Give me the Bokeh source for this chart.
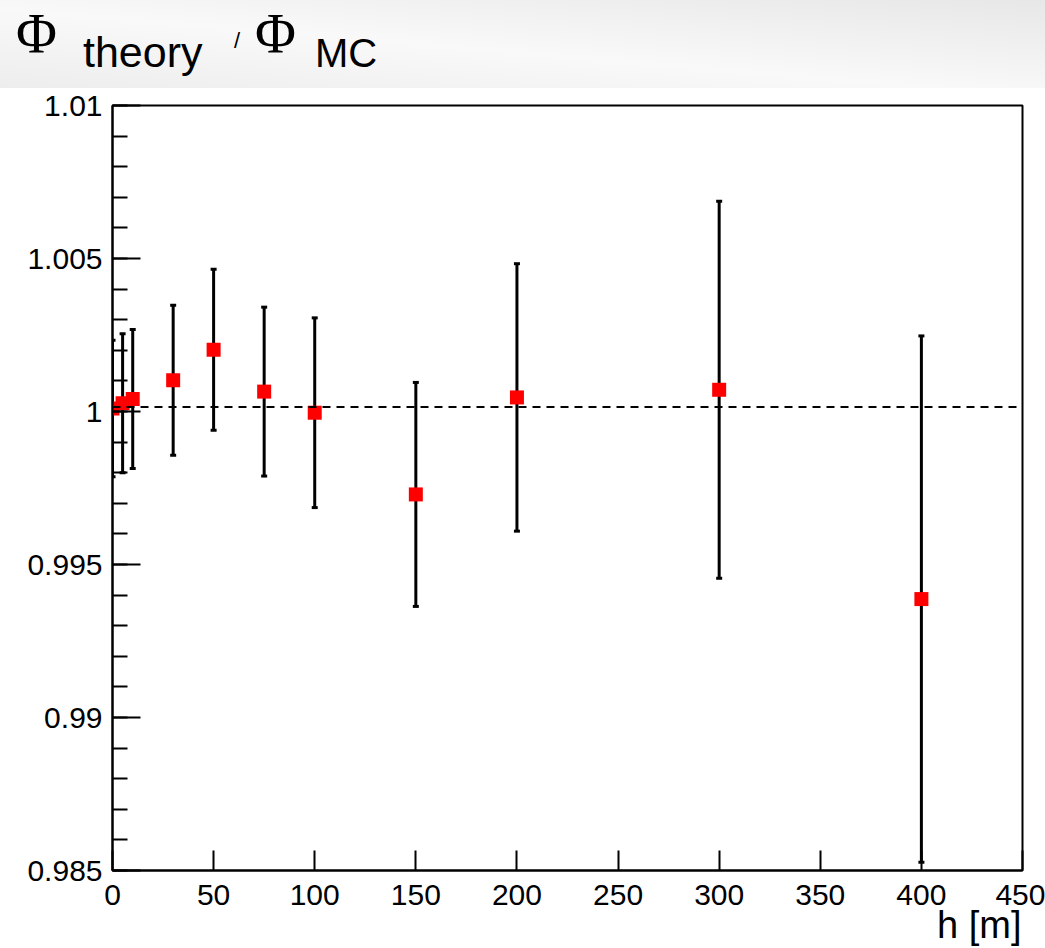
import numpy as np
from bokeh.plotting import figure
from bokeh.models import (Range1d, FixedTicker, CustomJSTickFormatter, Span,
                          ColumnDataSource, Div)
from bokeh.layouts import column
from bokeh.embed import file_html
from bokeh.resources import INLINE

# ---- data ----
h_m = [0, 5, 10, 30, 50, 75, 100, 150, 200, 300, 400]
ratio = [1.00010, 1.00027, 1.00041, 1.00102, 1.00202, 1.00065, 0.99996,
         0.99729, 1.00046, 1.00071, 0.99387]
ratio_err = [0.00223, 0.00227, 0.00227, 0.00245, 0.00263, 0.00276, 0.00310,
             0.00366, 0.00437, 0.00616, 0.00860]
reference_level = 1.00015
x_ticks = [0, 50, 100, 150, 200, 250, 300, 350, 400, 450]
y_ticks = [0.985, 0.99, 0.995, 1.0, 1.005, 1.01]
y_minor = [round(0.985 + 0.001 * i, 3) for i in range(26)]
x_label = "h [m]"
title_parts = [("\u03a6", "Liberation Serif", 56, 16, 53),
               ("theory", "Liberation Sans", 43, 83, 67),
               ("/", "Liberation Sans", 22, 234, 48),
               ("\u03a6", "Liberation Serif", 56, 255, 53),
               ("MC", "Liberation Sans", 40, 315, 67)]

W, H_TOP, H_MAIN = 1045, 88, 860

# ---- top band with the title (inline SVG, real text) ----
texts = "".join(
    f'<text x="{x}" y="{y}" style="font-family:\'{f}\';font-size:{s}px;'
    f'font-weight:normal;font-style:normal;fill:#000;">{t}</text>'
    for (t, f, s, x, y) in title_parts)
svg = (f'<svg xmlns="http://www.w3.org/2000/svg" width="{W}" height="{H_TOP}" '
       f'style="display:block">'
       '<defs><linearGradient id="bg" x1="0" y1="1" x2="1" y2="0">'
       '<stop offset="0" stop-color="#ededed"/>'
       '<stop offset="0.45" stop-color="#f9f9f9"/>'
       '<stop offset="1" stop-color="#e7e7e7"/>'
       '</linearGradient></defs>'
       f'<rect x="0" y="0" width="{W}" height="{H_TOP}" fill="url(#bg)"/>'
       f'{texts}</svg>')
top = Div(text=svg, width=W, height=H_TOP, margin=0)

# ---- main plot ----
p = figure(width=W, height=H_MAIN, x_range=Range1d(0, 450), y_range=Range1d(0.985, 1.01),
           output_backend="svg", toolbar_location=None,
           min_border_left=112, min_border_right=23, min_border_top=17, min_border_bottom=77)
p.grid.visible = False
p.outline_line_color = "black"
p.outline_line_width = 2
p.background_fill_color = "white"
p.border_fill_color = "white"

p.xaxis.ticker = FixedTicker(ticks=x_ticks, minor_ticks=[])
p.yaxis.ticker = FixedTicker(ticks=y_ticks, minor_ticks=y_minor)
p.yaxis.formatter = CustomJSTickFormatter(code="return String(Number(tick.toFixed(3)));")
p.xaxis.formatter = CustomJSTickFormatter(code="return String(Math.round(tick));")

for ax in (p.xaxis, p.yaxis):
    ax.axis_line_color = "black"
    ax.axis_line_width = 2
    ax.major_tick_line_color = "black"
    ax.major_tick_line_width = 2
    ax.minor_tick_line_color = "black"
    ax.minor_tick_line_width = 2
    ax.major_tick_out = 0
    ax.minor_tick_out = 0
    ax.major_label_text_font = "Liberation Sans"
    ax.major_label_text_font_size = "30px"
    ax.major_label_text_color = "black"

p.xaxis.major_tick_in = 20
p.xaxis.minor_tick_in = 0
p.xaxis.major_label_standoff = 14
p.yaxis.major_tick_in = 28
p.yaxis.minor_tick_in = 15
p.yaxis.major_label_standoff = 10

# axis title centred on the axis; leading no-break spaces push the visible
# text so that it ends flush with the right edge of the frame (ROOT style)
xax = p.xaxis[0]
xax.axis_label = "\u00a0" * 78 + x_label
xax.axis_label_align = "center"
xax.axis_label_standoff = -4
xax.axis_label_text_font = "Liberation Sans"
xax.axis_label_text_font_size = "38px"
xax.axis_label_text_font_style = "normal"
xax.axis_label_text_color = "black"

p.add_layout(Span(location=reference_level, dimension="width", line_color="black",
                  line_width=2, line_dash="8 6"))

src = ColumnDataSource(dict(
    h=h_m,
    r=ratio,
    up=[r + e for r, e in zip(ratio, ratio_err)],
    lo=[r - e for r, e in zip(ratio, ratio_err)],
))
p.segment(x0="h", y0="lo", x1="h", y1="up", source=src, line_color="black", line_width=3)
p.scatter(x="h", y="up", source=src, marker="dash", size=6, line_color="black", line_width=3)
p.scatter(x="h", y="lo", source=src, marker="dash", size=6, line_color="black", line_width=3)
p.scatter(x="h", y="r", source=src, marker="square", size=14, fill_color="red",
          line_color=None)

layout = column(top, p, spacing=0)
open("out.html", "w").write(file_html(layout, INLINE))
